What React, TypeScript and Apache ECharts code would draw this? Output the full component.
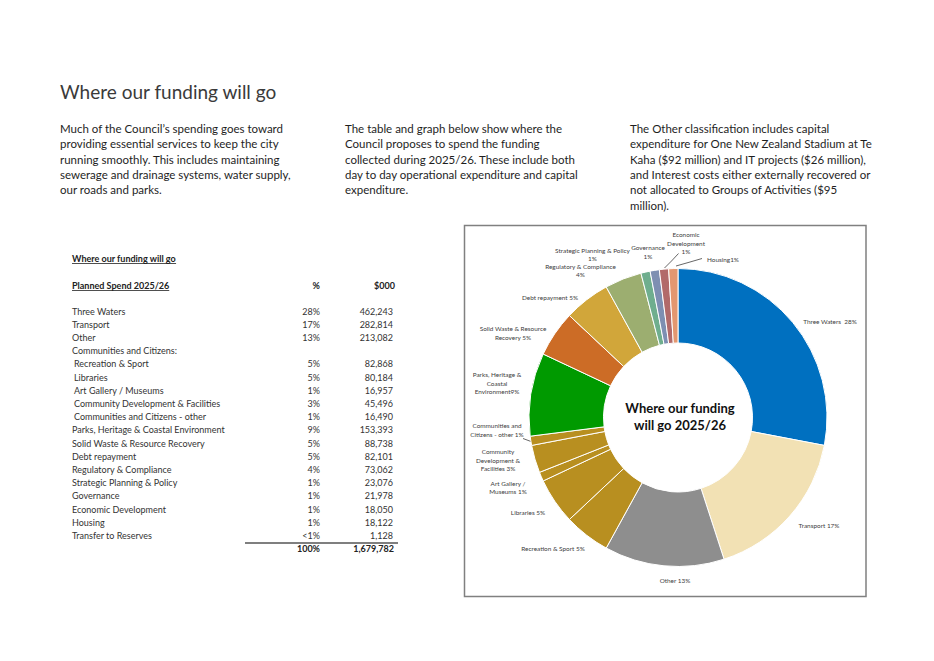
import React, { useEffect, useRef } from 'react';
import * as echarts from 'echarts';

const pageTitle = 'Where our funding will go';
const para1 = [
  'Much of the Council\u2019s spending goes toward',
  'providing essential services to keep the city',
  'running smoothly. This includes maintaining',
  'sewerage and drainage systems, water supply,',
  'our roads and parks.',
];
const para2 = [
  'The table and graph below show where the',
  'Council proposes to spend the funding',
  'collected during 2025/26. These include both',
  'day to day operational expenditure and capital',
  'expenditure.',
];
const para3 = [
  'The Other classification includes capital',
  'expenditure for One New Zealand Stadium at Te',
  'Kaha ($92 million) and IT projects ($26 million),',
  'and Interest costs either externally recovered or',
  'not allocated to Groups of Activities ($95',
  'million).',
];

const tableTitle = 'Where our funding will go';
const tableHeader = ['Planned Spend 2025/26', '%', '$000'];
const tableNames = [
  'Three Waters',
  'Transport',
  'Other',
  'Communities and Citizens:',
  ' Recreation & Sport',
  ' Libraries',
  ' Art Gallery / Museums',
  ' Community Development & Facilities',
  ' Communities and Citizens - other',
  'Parks, Heritage & Coastal Environment',
  'Solid Waste & Resource Recovery',
  'Debt repayment',
  'Regulatory & Compliance',
  'Strategic Planning & Policy',
  'Governance',
  'Economic Development',
  'Housing',
  'Transfer to Reserves',
];
const tablePct = ['28%', '17%', '13%', '', '5%', '5%', '1%', '3%', '1%', '9%', '5%', '5%', '4%', '1%', '1%', '1%', '1%', '<1%'];
const tableValues = ['462,243', '282,814', '213,082', '', '82,868', '80,184', '16,957', '45,496', '16,490', '153,393', '88,738', '82,101', '73,062', '23,076', '21,978', '18,050', '18,122', '1,128'];
const totalPct = '100%';
const totalValue = '1,679,782';

// The donut is drawn from the rounded percentages shown in its labels
const chartCategories = [
  'Three Waters',
  'Transport',
  'Other',
  'Recreation & Sport',
  'Libraries',
  'Art Gallery / Museums',
  'Community Development & Facilities',
  'Communities and Citizens - other',
  'Parks, Heritage & Coastal Environment',
  'Solid Waste & Resource Recovery',
  'Debt repayment',
  'Regulatory & Compliance',
  'Strategic Planning & Policy',
  'Governance',
  'Economic Development',
  'Housing',
];
const chartValues = [28, 17, 13, 5, 5, 1, 3, 1, 9, 5, 5, 4, 1, 1, 1, 1];
const chartLabels = [
  'Three Waters  28%',
  'Transport 17%',
  'Other 13%',
  'Recreation & Sport 5%',
  'Libraries 5%',
  'Art Gallery /\nMuseums 1%',
  'Community\nDevelopment &\nFacilities 3%',
  'Communities and\nCitizens - other 1%',
  'Parks, Heritage &\nCoastal\nEnvironment9%',
  'Solid Waste & Resource\nRecovery 5%',
  'Debt repayment 5%',
  'Regulatory & Compliance\n4%',
  'Strategic Planning & Policy\n1%',
  'Governance\n1%',
  'Economic\nDevelopment\n1%',
  'Housing1%',
];
const centerTitle = ['Where our funding', 'will go 2025/26'];

// styles / layout (not data)
const sliceColors = [
  '#0070C0', '#F2E1B4', '#8E8E8E', '#B88F20', '#B88F20', '#B88F20', '#B88F20', '#B88F20',
  '#009A00', '#CC6C26', '#D1A63A', '#9CAE70', '#6FAE8E', '#7E8FB2', '#B26A6A', '#E39770',
];
const labelAnchors: [number, number][] = [
  [830, 321], [819, 525], [675, 580], [553, 548], [528, 512], [508, 487.5], [498, 460], [497, 430],
  [497, 383], [513, 333], [550, 297], [580.5, 270.5], [592.5, 254.5], [648, 252], [686, 243], [723, 259.5],
];
const leaderLines: Record<number, number[][]> = {
  7: [[523, 438.5], [527, 440], [531, 441.5]],
  14: [[678.5, 253.5], [671.5, 261], [664.5, 268]],
  15: [[702, 258.5], [689, 262.3], [676, 266]],
};

const FONT = 'Lato, "Open Sans", sans-serif';

function measure(text: string, font: string): number {
  const c = document.createElement('canvas').getContext('2d');
  if (!c) return text.length * 5;
  c.font = font;
  return c.measureText(text).width;
}

export default function App() {
  const ref = useRef<HTMLDivElement>(null);
  useEffect(() => {
    if (!ref.current) return;
    const chart = echarts.init(ref.current, undefined, { renderer: 'svg' });
    const graphics: any[] = [];

    graphics.push({
      type: 'text', x: 60, y: 91,
      style: { text: pageTitle, fontSize: 19, fontWeight: 'normal', fill: '#3a3a3a', fontFamily: FONT, textVerticalAlign: 'middle' },
    });
    const paraStyle = (x: number, lines: string[]) =>
      lines.forEach((t, i) =>
        graphics.push({
          type: 'text', x, y: 128.3 + i * 15.35,
          style: { text: t, fontSize: 11.5, fill: '#1e1e1e', fontFamily: FONT, textVerticalAlign: 'middle' },
        })
      );
    paraStyle(60, para1);
    paraStyle(345, para2);
    paraStyle(630, para3);

    // Table
    const tFont = 9;
    const underlineText = (t: string, x: number, y: number) => {
      const w = measure(t, `bold ${tFont}px Lato`);
      graphics.push({ type: 'text', x, y, style: { text: t, fontSize: tFont, fontWeight: 'bold', fill: '#222', fontFamily: FONT, textVerticalAlign: 'middle' } });
      graphics.push({ type: 'line', shape: { x1: x, y1: y + 5.5, x2: x + w, y2: y + 5.5 }, style: { stroke: '#222', lineWidth: 0.8 } });
    };
    underlineText(tableTitle, 72, 258);
    underlineText(tableHeader[0], 72, 285);
    graphics.push({ type: 'text', x: 320, y: 285, style: { text: tableHeader[1], fontSize: tFont, fontWeight: 'bold', fill: '#222', fontFamily: FONT, textAlign: 'right', textVerticalAlign: 'middle' } });
    graphics.push({ type: 'text', x: 395, y: 285, style: { text: tableHeader[2], fontSize: tFont, fontWeight: 'bold', fill: '#222', fontFamily: FONT, textAlign: 'right', textVerticalAlign: 'middle' } });
    const rowY0 = 311;
    const rowStep = 13.2;
    tableNames.forEach((n, i) => {
      const y = rowY0 + i * rowStep;
      const indent = n.startsWith(' ');
      graphics.push({ type: 'text', x: indent ? 74 : 72, y, style: { text: n.trim(), fontSize: tFont, fill: '#333', fontFamily: FONT, textVerticalAlign: 'middle' } });
      if (tablePct[i]) graphics.push({ type: 'text', x: 320, y, style: { text: tablePct[i], fontSize: tFont, fill: '#333', fontFamily: FONT, textAlign: 'right', textVerticalAlign: 'middle' } });
      if (tableValues[i]) graphics.push({ type: 'text', x: 393, y, style: { text: tableValues[i], fontSize: tFont, fill: '#333', fontFamily: FONT, textAlign: 'right', textVerticalAlign: 'middle' } });
    });
    const lastY = rowY0 + (tableNames.length - 1) * rowStep;
    graphics.push({ type: 'line', shape: { x1: 245, y1: lastY + 7.5, x2: 398, y2: lastY + 7.5 }, style: { stroke: '#555', lineWidth: 1.5 } });
    graphics.push({ type: 'text', x: 320, y: lastY + rowStep, style: { text: totalPct, fontSize: tFont, fontWeight: 'bold', fill: '#222', fontFamily: FONT, textAlign: 'right', textVerticalAlign: 'middle' } });
    graphics.push({ type: 'text', x: 394, y: lastY + rowStep, style: { text: totalValue, fontSize: tFont, fontWeight: 'bold', fill: '#222', fontFamily: FONT, textAlign: 'right', textVerticalAlign: 'middle' } });

    // Chart box
    graphics.push({ type: 'rect', z: -10, shape: { x: 464.5, y: 225.5, width: 401.5, height: 371 }, style: { fill: '#fff', stroke: '#808080', lineWidth: 1.5 } });
    graphics.push({
      type: 'text', x: 680, y: 416.5, z: 10,
      style: { text: centerTitle.join('\n'), fontSize: 13, fontWeight: 'bold', fill: '#111', fontFamily: FONT, textAlign: 'center', textVerticalAlign: 'middle', lineHeight: 17 },
    });

    chart.setOption({
      animation: false,
      backgroundColor: '#fff',
      graphic: graphics,
      series: [
        {
          type: 'pie',
          center: [678, 417.5],
          radius: [74.5, 149],
          startAngle: 90,
          clockwise: true,
          avoidLabelOverlap: false,
          itemStyle: { borderColor: '#fff', borderWidth: 1 },
          label: {
            show: true,
            position: 'outside',
            formatter: (p: any) => chartLabels[p.dataIndex],
            fontSize: 6.4,
            lineHeight: 8.5,
            color: '#404040',
            fontFamily: FONT,
          },
          labelLine: { show: false, length: 10, length2: 6, lineStyle: { color: '#404040', width: 0.8 } },
          labelLayout: (p: any) => {
            const a = labelAnchors[p.dataIndex];
            const res: any = { x: a[0], y: a[1], align: 'center', verticalAlign: 'middle' };
            if (leaderLines[p.dataIndex]) res.labelLinePoints = leaderLines[p.dataIndex];
            return res;
          },
          data: chartCategories.map((n, i) => ({
            name: n,
            value: chartValues[i],
            itemStyle: { color: sliceColors[i] },
            labelLine: leaderLines[i] ? { show: true } : undefined,
          })),
        },
      ],
    });
    return () => chart.dispose();
  }, []);
  return <div ref={ref} style={{ position: 'absolute', left: 0, top: 0, width: 934, height: 661 }} />;
}
